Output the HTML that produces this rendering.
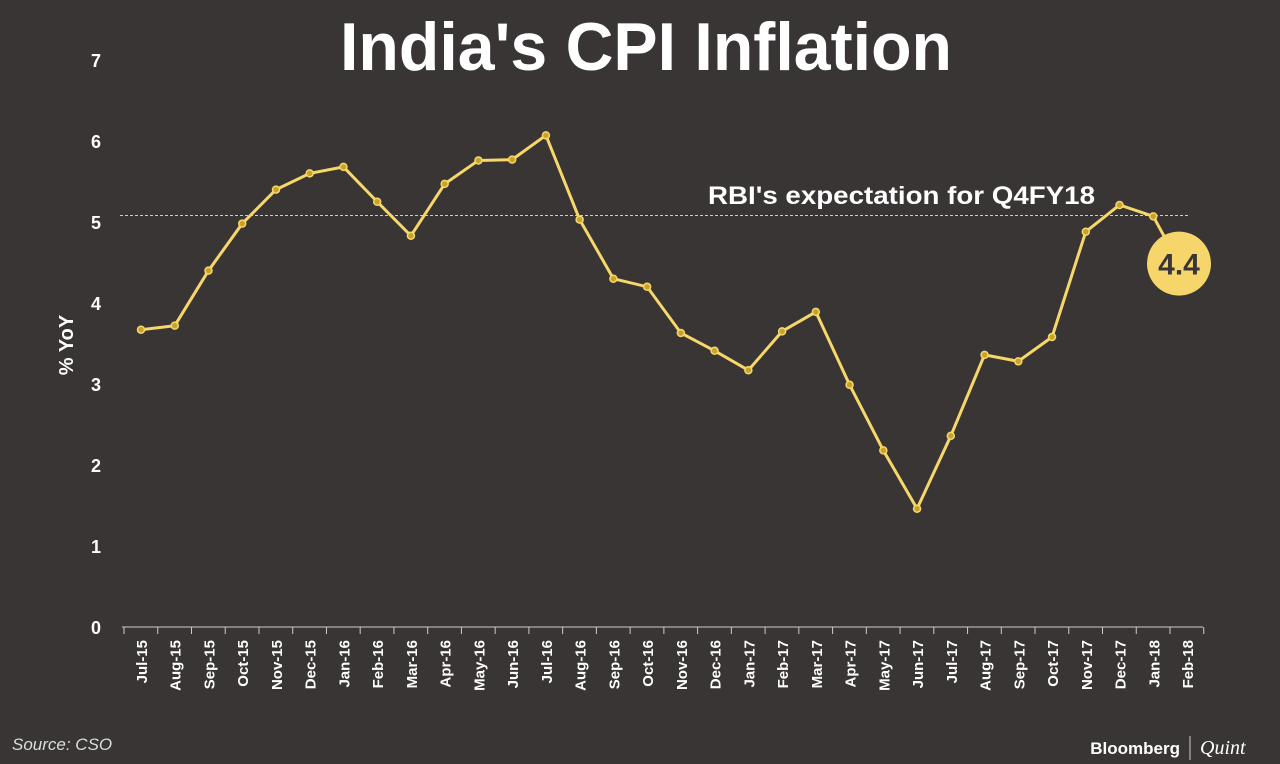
<!DOCTYPE html>
<html><head><meta charset="utf-8"><style>
body{margin:0;background:#393534;}
svg{display:block;font-family:"Liberation Sans",sans-serif;}
</style></head><body>
<svg id="chart" width="1280" height="764" viewBox="0 0 1280 764">
<rect width="1280" height="764" fill="#393534"/>
<text x="340" y="70" textLength="612" lengthAdjust="spacingAndGlyphs" fill="#fff" font-size="68" font-weight="bold">India's CPI Inflation</text>
<text transform="translate(73,345) rotate(-90)" text-anchor="middle" fill="#fff" font-size="20" font-weight="bold">% YoY</text>
<g id="yt"></g><g id="xt"></g>
<line x1="122" y1="627" x2="1203" y2="627" stroke="#ccc" stroke-width="1"/>
<line id="ref" x1="120" x2="1190" stroke="#ccc" stroke-width="1" stroke-dasharray="3,2"/>
<text x="708" y="204" textLength="387" lengthAdjust="spacingAndGlyphs" fill="#fff" font-size="25" font-weight="bold">RBI's expectation for Q4FY18</text>
<g id="series"></g>
<text x="12" y="750" fill="#ddd" font-size="17" font-style="italic">Source: CSO</text>
<text x="1180" y="754" text-anchor="end" fill="#fff" font-size="17" font-weight="bold">Bloomberg</text>
<line x1="1190" y1="736" x2="1190" y2="760" stroke="#ccc"/>
<text x="1200" y="754" fill="#fff" font-size="20" font-style="italic" font-family="Liberation Serif,serif">Quint</text>
</svg>
<script>
const categories=["Jul-15","Aug-15","Sep-15","Oct-15","Nov-15","Dec-15","Jan-16","Feb-16","Mar-16","Apr-16","May-16","Jun-16","Jul-16","Aug-16","Sep-16","Oct-16","Nov-16","Dec-16","Jan-17","Feb-17","Mar-17","Apr-17","May-17","Jun-17","Jul-17","Aug-17","Sep-17","Oct-17","Nov-17","Dec-17","Jan-18","Feb-18"];
const values=[3.67,3.72,4.4,4.98,5.4,5.6,5.68,5.25,4.83,5.47,5.76,5.77,6.07,5.03,4.3,4.2,3.63,3.41,3.17,3.65,3.89,2.99,2.18,1.46,2.36,3.36,3.28,3.58,4.88,5.21,5.07,4.4];
const yTicks=[0,1,2,3,4,5,6,7];
const refValue=5.08;
const NS="http://www.w3.org/2000/svg";
const y=v=>627-v*81;
const x=i=>141+i*(1187-141)/31;
function mk(t,a,p){const e=document.createElementNS(NS,t);for(const k in a)e.setAttribute(k,a[k]);p.appendChild(e);return e;}
const yt=document.getElementById('yt');
yTicks.forEach(v=>{const t=mk('text',{x:101,y:y(v)+7,'text-anchor':'end',fill:'#fff','font-size':18,'font-weight':'bold'},yt);


t.textContent=v;});
const xt=document.getElementById('xt');
for(let i=0;i<=categories.length;i++){const l=mk('line',{x1:x(i)-17,x2:x(i)-17,y1:627,y2:634,stroke:'#ccc'},xt);

}
categories.forEach((c,i)=>{const t=mk('text',{transform:`translate(${x(i)+6},${640}) rotate(-90)`,'text-anchor':'end',fill:'#fff','font-size':15,'font-weight':'bold'},xt);


t.textContent=c;});
const ref=document.getElementById('ref');ref.setAttribute('y1',y(refValue));ref.setAttribute('y2',y(refValue));
const g=document.getElementById('series');
const n=values.length;
const pts=values.slice(0,n-1).map((v,i)=>x(i)+','+y(v));
const last=[x(n-1)-8,y(values[n-1])-7];
const pl=mk('polyline',{points:pts.join(' ')+' '+last.join(','),fill:'none',stroke:'#f6d76a','stroke-width':3},g);


values.slice(0,n-1).forEach((v,i)=>{const c=mk('circle',{cx:x(i),cy:y(v),r:3.5,fill:'#c9a22a',stroke:'#f6d76a','stroke-width':1.5},g);

});
const bc=mk('circle',{cx:last[0],cy:last[1],r:32,fill:'#f6d56a'},g);


const bt=mk('text',{x:last[0],y:last[1]+11,'text-anchor':'middle',fill:'#3a3636','font-size':30,'font-weight':'bold'},g);


bt.textContent=values[n-1].toFixed(1);
</script>
</body></html>
